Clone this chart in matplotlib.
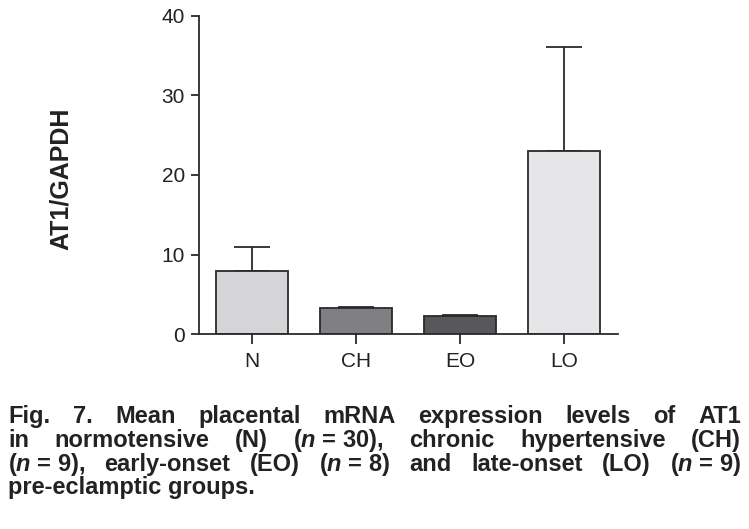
import matplotlib
matplotlib.use("Agg")
import matplotlib.pyplot as plt
import numpy as np

groups = ["N", "CH", "EO", "LO"]
means = [7.9, 3.3, 2.3, 23.0]
sem = [3.1, 0.15, 0.15, 13.1]
colors = ["#d5d5d7", "#7f7f84", "#58585c", "#e6e6e8"]

N_IT = "$\\mathbfit{n}$"
caption_lines = [
    ["Fig.", "7.", "Mean", "placental", "mRNA", "expression", "levels", "of", "AT1"],
    ["in", "normotensive", "(N)", "(" + N_IT + " = 30),", "chronic", "hypertensive", "(CH)"],
    ["(" + N_IT + " = 9),", "early-onset", "(EO)", "(" + N_IT + " = 8)", "and", "late-onset",
     "(LO)", "(" + N_IT + " = 9)"],
    ["pre-eclamptic groups."],
]

plt.rcParams["font.family"] = ["Liberation Sans", "DejaVu Sans"]
plt.rcParams["mathtext.fontset"] = "custom"
plt.rcParams["mathtext.bfit"] = "Liberation Sans:bold:italic"

fig = plt.figure(figsize=(7.49, 5.29), dpi=100)
ax = fig.add_axes([0.2657, 0.3686, 0.5594, 0.6012])

x = np.arange(len(groups))
ax.bar(x, means, width=0.69, color=colors, edgecolor="#2a2a2a", linewidth=1.3, zorder=2)
ax.errorbar(x, means, yerr=[np.zeros(len(sem)), sem], fmt="none", ecolor="#2a2a2a",
            elinewidth=1.3, capsize=13, capthick=1.3, zorder=1)

ax.set_xlim(-0.51, 3.52)
ax.set_ylim(0, 40)
ax.set_yticks([0, 10, 20, 30, 40])
ax.set_xticks(x)
ax.set_xticklabels(groups)
for s in ["top", "right"]:
    ax.spines[s].set_visible(False)
for s in ["left", "bottom"]:
    ax.spines[s].set_linewidth(1.3)
    ax.spines[s].set_color("#2a2a2a")
ax.tick_params(axis="y", length=6, width=1.3, color="#2a2a2a", labelsize=15, pad=4, labelcolor="#222222")
ax.tick_params(axis="x", length=7, width=1.3, color="#2a2a2a", labelsize=15, pad=6, labelcolor="#222222")

fig.text(61 / 749, 1 - 179 / 529, "AT1/GAPDH", rotation=90, ha="center", va="center",
         fontsize=18, fontweight="bold", color="#222222")

# justified caption, word by word
renderer = fig.canvas.get_renderer()
left, right = 8 / 749, 741 / 749
baselines = [423, 447, 471, 494]
for i, words in enumerate(caption_lines):
    yb = 1 - baselines[i] / 529
    texts = [fig.text(0, yb, w, ha="left", va="baseline", fontsize=17, fontweight="bold",
                      color="#222222") for w in words]
    if len(words) == 1:
        texts[0].set_x(left)
        continue
    widths = [t.get_window_extent(renderer).width / fig.bbox.width for t in texts]
    gap = (right - left - sum(widths)) / (len(words) - 1)
    xpos = left
    for t, w in zip(texts, widths):
        t.set_x(xpos)
        xpos += w + gap

fig.savefig("out.png", dpi=100)
